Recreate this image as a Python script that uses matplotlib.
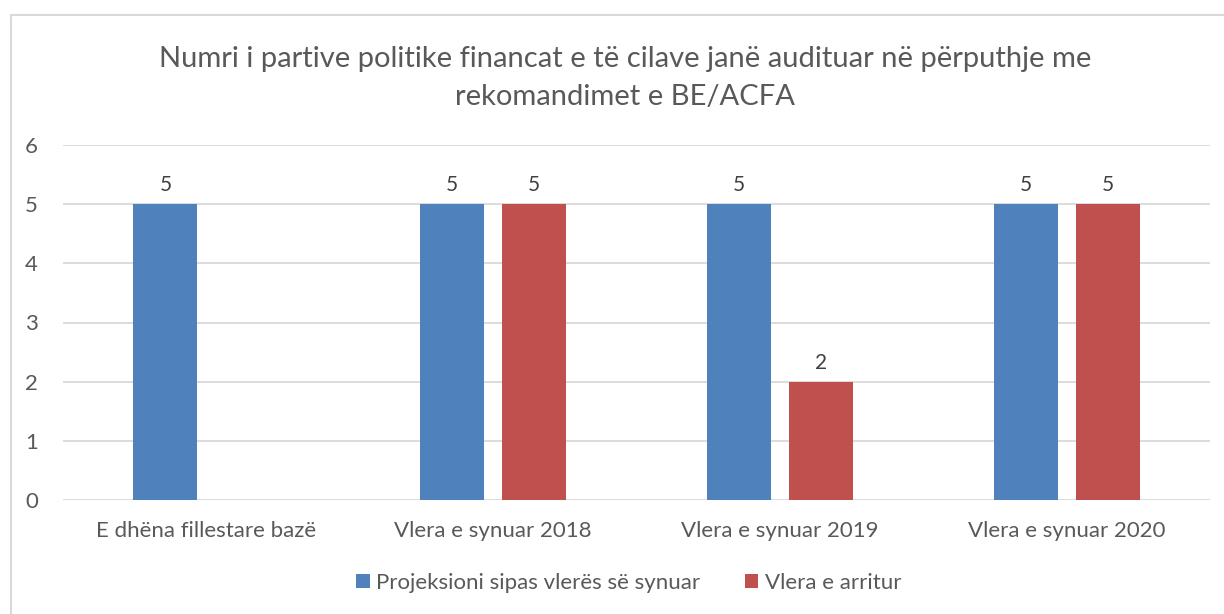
import matplotlib
matplotlib.use("Agg")
import matplotlib.pyplot as plt
from matplotlib.patches import Rectangle
import numpy as np

categories = ["E dhëna fillestare bazë", "Vlera e synuar 2018", "Vlera e synuar 2019", "Vlera e synuar 2020"]
projeksioni = [5, 5, 5, 5]
arritur = [np.nan, 5, 2, 5]
series_names = ["Projeksioni sipas vlerës së synuar", "Vlera e arritur"]
title = "Numri i partive politike financat e të cilave janë audituar në përputhje me\nrekomandimet e BE/ACFA"

plt.rcParams['font.family'] = ['Lato', 'DejaVu Sans']
txt = '#595959'
blue = '#4F81BD'
red = '#C0504D'

fig = plt.figure(figsize=(12.24, 6.14), dpi=100)
fig.patches.append(Rectangle((11/1224, -0.1), 1.2, 1 - 15/614 + 0.1, transform=fig.transFigure,
                             fill=False, edgecolor='#d9d9d9', linewidth=1.5))
ax = fig.add_axes([63/1224, 1 - 500/614, (1210 - 63)/1224, (500 - 145)/614])

x = np.arange(len(categories))
w = 0.223
off = 0.143
b1 = ax.bar(x - off, projeksioni, w, color=blue, label=series_names[0], zorder=3)
b2 = ax.bar(x + off, arritur, w, color=red, label=series_names[1], zorder=3)
for bars, vals in ((b1, projeksioni), (b2, arritur)):
    for rect, v in zip(bars, vals):
        if np.isnan(v):
            continue
        ax.text(rect.get_x() + rect.get_width()/2, v + 0.32, f"{int(v)}", ha='center', va='center',
                fontsize=15, color='#404040')

ax.set_xlim(-0.5, 3.5)
ax.set_ylim(0, 6)
ax.set_yticks(range(0, 7))
ax.set_xticks(x)
ax.set_xticklabels(categories)
ax.grid(axis='y', color='#d9d9d9', linewidth=1.3, zorder=0)
for s in ax.spines.values():
    s.set_visible(False)
ax.tick_params(axis='both', length=0, labelsize=16, labelcolor=txt)
ax.tick_params(axis='x', pad=15)
ax.tick_params(axis='y', pad=18)

fig.text(625/1224, 1 - 78/614, title, ha='center', va='center', fontsize=21, color=txt, linespacing=1.6)
fig.legend(handles=[b1, b2], labels=series_names, loc='center', bbox_to_anchor=(629/1224, 1 - 583/614),
           ncol=2, frameon=False, fontsize=16, labelcolor=txt, handlelength=0.6, handleheight=0.6,
           columnspacing=2.0, handletextpad=0.3)

fig.savefig("out.png", dpi=100)
